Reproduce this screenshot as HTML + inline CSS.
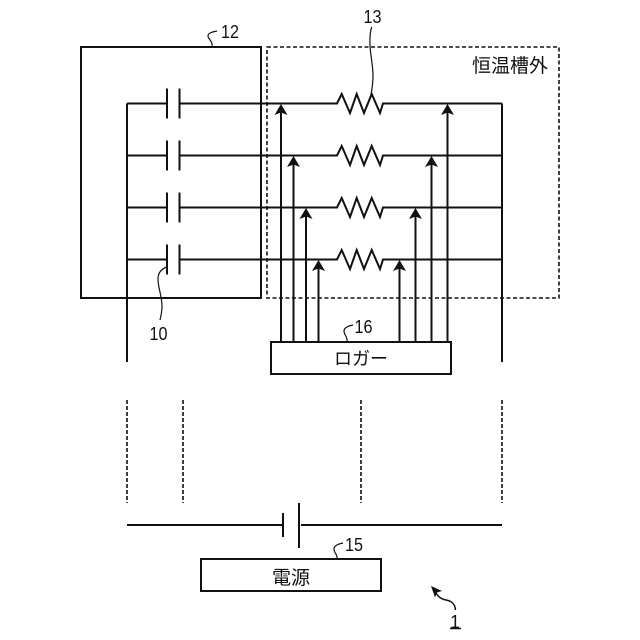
<!DOCTYPE html>
<html><head><meta charset="utf-8"><style>html,body{margin:0;padding:0;background:#fff}svg{display:block}text{font-family:"Liberation Sans","Noto Sans CJK JP",sans-serif;fill:#111}</style></head><body>
<svg width="640" height="640" viewBox="0 0 640 640" xmlns="http://www.w3.org/2000/svg">
<g fill="none" stroke="#111" stroke-width="2">
<rect x="81" y="47" width="180" height="251"/>
<rect x="267" y="47" width="292" height="251" stroke-dasharray="4 2.5" stroke-width="1.6"/>
<path d="M127 103.500V362M502 103.500V362"/>
<path d="M127 103.500H166M180 103.500H337l4.700-9.500 8.300 19 6.700-19 7.300 19 7.700-19 8.300 19 3-9.500H502"/>
<path d="M127 155.500H166M180 155.500H337l4.700-9.500 8.300 19 6.700-19 7.300 19 7.700-19 8.300 19 3-9.500H502"/>
<path d="M127 207.500H166M180 207.500H337l4.700-9.500 8.300 19 6.700-19 7.300 19 7.700-19 8.300 19 3-9.500H502"/>
<path d="M127 259.500H166M180 259.500H337l4.700-9.500 8.300 19 6.700-19 7.300 19 7.700-19 8.300 19 3-9.500H502"/>
<path d="M167 88.500v30M179.500 88.500v30M167 140.500v30M179.500 140.500v30M167 192.500v30M179.500 192.500v30M167 244.500v30M179.500 244.500v30"/>
<path d="M281 110V342M293.500 162V342M306 214V342M318.500 266V342M399.500 266V342M415.500 214V342M431.500 162V342M447.500 110V342"/>
<rect x="271" y="342" width="180" height="32"/>
<rect x="201" y="559" width="180" height="32"/>
<path d="M127 525H283M301 525H502"/>
<path d="M283 513v24M299 503v45"/>
<g stroke-dasharray="4 2" stroke-width="1.600">
<path d="M127 400V503M183 400V503M361 400V503M502 400V503"/>
</g>
<g stroke-width="1.200">
<path d="M217 31c-5 1-9 2-9 5 0 3 5 5 4 11"/>
<path d="M371.700 27c-2 6-2 12-1.700 18 .5 11 3 20 3 31 0 7-1 13-2 19"/>
<path d="M167 267c-6 2-9 6-9 12 0 9 4 17 4 27 0 5-1 10-2 14"/>
<path d="M353 325c-5 1-9 3-9 6 0 4 4 6 3 11"/>
<path d="M343 543c-5 1-9 3-9 6 0 4 4 6 3 10"/>
</g>
<path d="M435 591c2 5 6 8 11 9 6 1 9 4 9.500 10" stroke-width="1.500"/>
<path d="M450 628.500h11" stroke-width="1.500"/>
</g>
<g fill="#111" stroke="none">
<path d="M281 104l6.500 11-6.500-2.500-6.500 2.500z"/>
<path d="M293.500 156l6.500 11-6.500-2.500-6.500 2.500z"/>
<path d="M306 208l6.500 11-6.500-2.500-6.500 2.500z"/>
<path d="M318.500 260l6.500 11-6.500-2.500-6.500 2.500z"/>
<path d="M399.500 260l6.500 11-6.500-2.500-6.500 2.500z"/>
<path d="M415.500 208l6.500 11-6.500-2.500-6.500 2.500z"/>
<path d="M431.500 156l6.500 11-6.500-2.500-6.500 2.500z"/>
<path d="M447.500 104l6.500 11-6.500-2.500-6.500 2.500z"/>
<path d="M431 586l11 5-5 1.500-2 5z"/>
</g>
<text x="230" y="38" font-size="18" text-anchor="middle" textLength="18" lengthAdjust="spacingAndGlyphs">12</text>
<text x="372.500" y="23" font-size="18" text-anchor="middle" textLength="18" lengthAdjust="spacingAndGlyphs">13</text>
<text x="158.500" y="340" font-size="18" text-anchor="middle" textLength="18" lengthAdjust="spacingAndGlyphs">10</text>
<text x="363.500" y="333" font-size="18" text-anchor="middle" textLength="18" lengthAdjust="spacingAndGlyphs">16</text>
<text x="354" y="551" font-size="18" text-anchor="middle" textLength="18" lengthAdjust="spacingAndGlyphs">15</text>
<text x="455" y="628" font-size="18" text-anchor="middle">1</text>
<text x="510" y="72" font-size="19" text-anchor="middle">恒温槽外</text>
<text x="361" y="365" font-size="18" text-anchor="middle">ロガー</text>
<text x="291" y="584" font-size="19" text-anchor="middle">電源</text>
</svg>
</body></html>
